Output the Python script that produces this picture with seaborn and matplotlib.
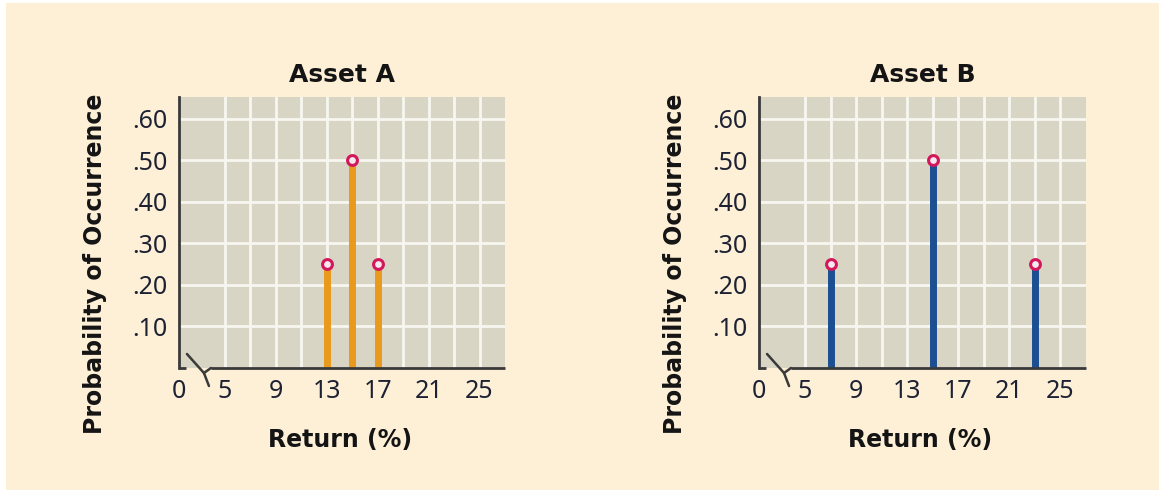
import numpy as np
import matplotlib
matplotlib.use("Agg")
import matplotlib.pyplot as plt
import seaborn as sns
from matplotlib.patches import Rectangle
from matplotlib.lines import Line2D
from matplotlib.transforms import ScaledTranslation

# ---- data -------------------------------------------------------------
assets = ["Asset A", "Asset B"]
returns_a = [13, 15, 17]
probs_a = [0.25, 0.50, 0.25]
returns_b = [7, 15, 23]
probs_b = [0.25, 0.50, 0.25]
x_tick_values = [5, 9, 13, 17, 21, 25]
x_tick_labels = ["0", "5", "9", "13", "17", "21", "25"]
y_tick_values = [0.10, 0.20, 0.30, 0.40, 0.50, 0.60]
y_tick_labels = [".10", ".20", ".30", ".40", ".50", ".60"]
stem_colors = ["#E99A1C", "#1B4F92"]

# ---- style ------------------------------------------------------------
CREAM = "#FEEFD7"
PANEL = "#D8D5C4"
GRID = "#F7F6F0"
AXIS = "#3A3A3A"
MARK_EDGE = "#D2185B"
MARK_FACE = "#F6E8EE"
TEXT = "#141414"
TICK_TEXT = "#1C2233"

sns.set_theme(style="white")
plt.rcParams["font.family"] = ["DejaVu Sans"]

fig = plt.figure(figsize=(11.59, 4.90), dpi=100)
fig.patch.set_facecolor("white")
fig.patches.append(Rectangle((6 / 1159, 0), 1 - 6 / 1159, 1 - 3 / 490,
                             transform=fig.transFigure, facecolor=CREAM,
                             edgecolor="none", zorder=-10))

positions = [[0.1544, 0.249, 0.2813, 0.553], [0.6549, 0.249, 0.2821, 0.553]]
series = [(returns_a, probs_a), (returns_b, probs_b)]

X_LEFT, X_RIGHT = 1.4, 27.0
Y_TOP = 0.652

for ax_pos, title, (rets, probs), color in zip(positions, assets, series, stem_colors):
    ax = fig.add_axes(ax_pos)
    ax.set_facecolor(PANEL)
    ax.set_xlim(X_LEFT, X_RIGHT)
    ax.set_ylim(0, Y_TOP)

    # grid: every 2% across, every .10 up
    ax.xaxis.remove_overlapping_locs = False
    ax.set_xticks([X_LEFT] + x_tick_values)
    ax.set_xticklabels(x_tick_labels, fontfamily="Noto Sans", fontsize=18, color=TICK_TEXT)
    ax.set_xticks(np.arange(5, 26, 2), minor=True)
    ax.set_yticks(y_tick_values)
    ax.set_yticklabels(y_tick_labels, fontfamily="Noto Sans", fontsize=18, color=TICK_TEXT)
    ax.tick_params(axis="both", which="both", length=0)
    ax.tick_params(axis="x", pad=8)
    ax.tick_params(axis="y", pad=8)
    ax.grid(False)
    ax.grid(which="minor", axis="x", color=GRID, linewidth=2.0, zorder=0)
    ax.grid(which="major", axis="y", color=GRID, linewidth=2.0, zorder=0)
    ax.set_axisbelow(True)

    # stems and circle heads
    ax.vlines(rets, 0, probs, colors=color, linewidth=5, zorder=3)
    sns.scatterplot(x=rets, y=probs, ax=ax, s=50, marker="o", color=MARK_FACE,
                    edgecolor=MARK_EDGE, linewidth=2.2, zorder=5, clip_on=False,
                    legend=False)

    # spines: only the left one plus a broken bottom axis
    for side in ["top", "right", "bottom"]:
        ax.spines[side].set_visible(False)
    ax.spines["left"].set_color(AXIS)
    ax.spines["left"].set_linewidth(2)

    px = fig.dpi_scale_trans + ScaledTranslation(0, 0, ax.transAxes)
    s = 1 / fig.dpi
    corner = Line2D([0, 7 * s], [0, 0], transform=px, color=AXIS, lw=2,
                    clip_on=False, zorder=6, solid_capstyle="butt")
    zig = Line2D([8 * s, 25 * s, 32 * s], [14 * s, -5 * s, 0],
                 transform=px, color=AXIS, lw=1.8, clip_on=False, zorder=6,
                 solid_joinstyle="miter")
    tail = Line2D([25 * s, 30 * s], [-5 * s, -18 * s],
                  transform=px, color=AXIS, lw=1.8, clip_on=False, zorder=6)
    for ln in (corner, zig, tail):
        ax.add_line(ln)
    width_px = ax.bbox.width
    ax.add_line(Line2D([32 / width_px, 1], [0, 0], transform=ax.transAxes,
                       color=AXIS, lw=2, clip_on=False, zorder=6,
                       solid_capstyle="butt"))

    ax.set_title(title, fontsize=18, fontweight="bold", color=TEXT, pad=11)
    ax.set_xlabel("Return (%)", fontsize=17, fontweight="bold", color=TEXT)
    ax.xaxis.set_label_coords(0.494, -0.221)
    ax.set_ylabel("Probability of Occurrence", fontsize=17, fontweight="bold", color=TEXT)
    ax.yaxis.set_label_coords(-0.221, 0.384)

fig.savefig("out.png", dpi=100, facecolor=fig.get_facecolor())
